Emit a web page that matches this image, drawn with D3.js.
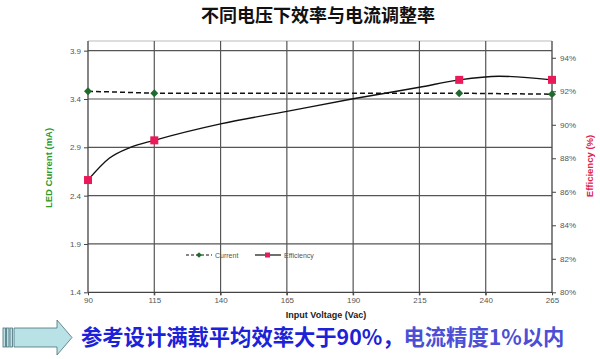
<!DOCTYPE html>
<html><head><meta charset="utf-8">
<script src="https://cdn.jsdelivr.net/npm/d3@7"></script>
<style>body{margin:0;background:#fff}svg{display:block}</style>
</head><body>
<svg id="c" width="600" height="359"></svg>
<script>
const title = "不同电压下效率与电流调整率";
const xTicks = [90, 115, 140, 165, 190, 215, 240, 265];
const leftTicks = [1.4, 1.9, 2.4, 2.9, 3.4, 3.9];
const rightTicks = [80, 82, 84, 86, 88, 90, 92, 94];
const currentV = [90, 115, 230, 265];
const currentVals = [3.48, 3.46, 3.46, 3.45];
const effV = [90, 115, 230, 265];
const effVals = [86.7, 89.07, 92.68, 92.68];
const effCurveV = [90, 98, 106, 115, 140, 165, 190, 215, 230, 245, 265];
const effCurveVals = [86.7, 88.0, 88.65, 89.07, 90.05, 90.8, 91.55, 92.24, 92.68, 92.9, 92.68];
const legendLabels = ["Current", "Efficiency"];
const noteA = "参考设计满载平均效率大于90%，";
const noteB = "电流精度1%以内";

const svg = d3.select("#c");
const L = 88, R = 552, T = 41, B = 292.3;
const x = d3.scaleLinear().domain([90, 265]).range([L, R]);
const yL = d3.scaleLinear().domain([1.4, 4.0]).range([B, T]);
const yR = d3.scaleLinear().domain([80, 95]).range([B, T]);
const font = "'Liberation Sans', Arial, sans-serif";

// title
svg.append("text").attr("x", 318).attr("y", 22).attr("text-anchor", "middle")
  .attr("font-family", "'Noto Sans CJK SC', sans-serif").attr("font-weight", "bold")
  .attr("font-size", 18).attr("fill", "#111").text(title);

// top border
svg.append("line").attr("x1", L).attr("x2", R).attr("y1", T).attr("y2", T)
  .attr("stroke", "#bbb").attr("stroke-width", 1);

// grid
const g = svg.append("g");
g.selectAll(".vg").data(xTicks.slice(1, -1)).join("line")
  .attr("x1", d => x(d)).attr("x2", d => x(d)).attr("y1", T).attr("y2", B + 3)
  .attr("stroke", "#555").attr("stroke-width", 1.2);
g.selectAll(".hg").data(leftTicks.slice(1)).join("line")
  .attr("x1", L).attr("x2", R).attr("y1", d => yL(d)).attr("y2", d => yL(d))
  .attr("stroke", "#555").attr("stroke-width", 1.2);

// axes
const axX = d3.axisBottom(x).tickValues(xTicks).tickSize(3).tickFormat(d3.format("d"));
const axL = d3.axisLeft(yL).tickValues(leftTicks).tickSize(4).tickFormat(d3.format(".1f"));
const axR = d3.axisRight(yR).tickValues(rightTicks).tickSize(4).tickFormat(d => d + "%");
function style(sel) {
  sel.select(".domain").attr("stroke", "#444").attr("stroke-width", 1.3);
  sel.selectAll(".tick line").attr("stroke", "#444");
  sel.selectAll(".tick text").attr("fill", "#555").attr("font-size", 8).attr("font-family", font);
}
svg.append("g").attr("transform", `translate(0,${B})`).call(axX).call(style)
  .call(s => s.select(".domain").attr("d", `M${L},0H${R}`))
  .selectAll(".tick text").attr("dy", "0.55em");
svg.append("g").attr("transform", `translate(${L},0)`).call(axL).call(style)
  .call(s => s.select(".domain").attr("d", `M0,${T}V${B}`));
svg.append("g").attr("transform", `translate(${R},0)`).call(axR).call(style)
  .call(s => s.select(".domain").attr("d", `M0,${T}V${B}`))
  .selectAll(".tick text").attr("x", 8);

// axis titles
svg.append("text").attr("transform", "translate(52,168) rotate(-90)").attr("text-anchor", "middle")
  .attr("font-family", font).attr("font-weight", "bold").attr("font-size", 9.5)
  .attr("fill", "#2e9a2e").text("LED Current (mA)");
svg.append("text").attr("transform", "translate(593,166) rotate(-90)").attr("text-anchor", "middle")
  .attr("font-family", font).attr("font-weight", "bold").attr("font-size", 9.5)
  .attr("fill", "#e0204a").text("Efficiency (%)");
svg.append("text").attr("x", 326).attr("y", 318).attr("text-anchor", "middle")
  .attr("font-family", font).attr("font-weight", "bold").attr("font-size", 9)
  .attr("fill", "#222").text("Input Voltage (Vac)");

// current series
const cur = currentV.map((v, i) => [v, currentVals[i]]);
svg.append("path").datum(cur)
  .attr("d", d3.line().x(d => x(d[0])).y(d => yL(d[1])))
  .attr("fill", "none").attr("stroke", "#111").attr("stroke-width", 1.5).attr("stroke-dasharray", "5,3");
svg.selectAll(".cm").data(cur).join("rect")
  .attr("transform", d => `translate(${x(d[0])},${yL(d[1])}) rotate(45)`)
  .attr("x", -2.8).attr("y", -2.8).attr("width", 5.6).attr("height", 5.6).attr("fill", "#1f6b2e");

// efficiency series
const effC = effCurveV.map((v, i) => [v, effCurveVals[i]]);
svg.append("path").datum(effC)
  .attr("d", d3.line().x(d => x(d[0])).y(d => yR(d[1])).curve(d3.curveMonotoneX))
  .attr("fill", "none").attr("stroke", "#111").attr("stroke-width", 1.4);
const eff = effV.map((v, i) => [v, effVals[i]]);
svg.selectAll(".em").data(eff).join("rect")
  .attr("x", d => x(d[0]) - 4).attr("y", d => yR(d[1]) - 4)
  .attr("width", 8).attr("height", 8).attr("fill", "#ea1a5a");

// legend
const lg = svg.append("g").attr("transform", "translate(0,255)");
lg.append("line").attr("x1", 186).attr("x2", 212).attr("stroke", "#111").attr("stroke-width", 1.2).attr("stroke-dasharray", "3,2");
lg.append("rect").attr("transform", "translate(199,0) rotate(45)").attr("x", -2).attr("y", -2).attr("width", 4).attr("height", 4).attr("fill", "#1f6b2e");
lg.append("text").attr("x", 215).attr("y", 2.5).attr("font-family", font).attr("font-size", 7).attr("fill", "#555").text(legendLabels[0]);
lg.append("line").attr("x1", 255).attr("x2", 281).attr("stroke", "#111").attr("stroke-width", 1.2);
lg.append("rect").attr("x", 265).attr("y", -2.5).attr("width", 5).attr("height", 5).attr("fill", "#ea1a5a");
lg.append("text").attr("x", 284).attr("y", 2.5).attr("font-family", font).attr("font-size", 7).attr("fill", "#555").text(legendLabels[1]);

// arrow
const ar = svg.append("g").attr("fill", "#b9e2e6").attr("stroke", "#4a6f78").attr("stroke-width", 0.8);
[3, 6.5, 10].forEach(sx => ar.append("rect").attr("x", sx).attr("y", 328).attr("width", 2.5).attr("height", 19));
ar.append("path").attr("d", "M14,328H57V320L72,337.5L57,355V347H14Z");

// note
const nt = svg.append("text").attr("x", 81).attr("y", 345)
  .attr("font-family", "'Noto Sans CJK SC', sans-serif").attr("font-weight", "bold").attr("font-size", 21.3);
nt.append("tspan").attr("fill", "#1c22d8").text(noteA);
nt.append("tspan").attr("fill", "#4c4fd6").text(noteB);
</script>
</body></html>
